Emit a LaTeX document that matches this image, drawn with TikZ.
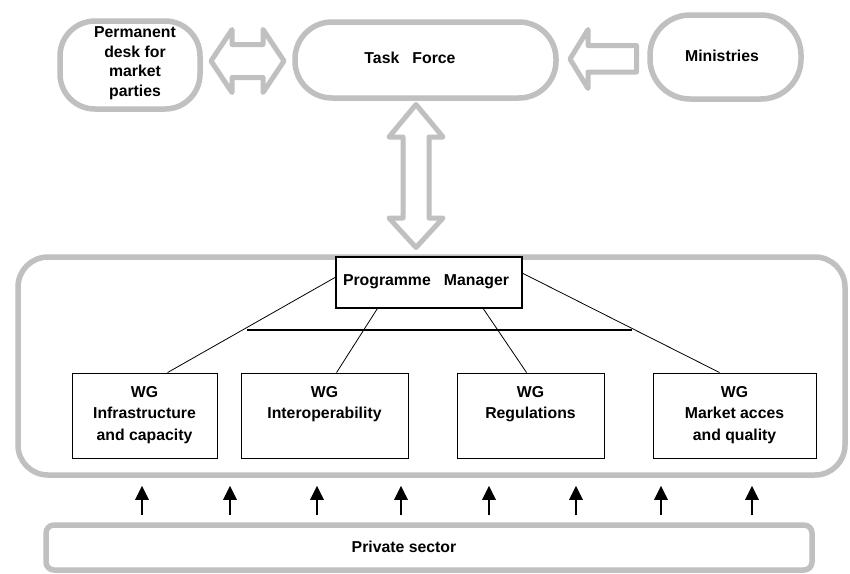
\documentclass[tikz,border=0pt]{standalone}
\usepackage{fontspec}
\setmainfont{Liberation Sans}
\usetikzlibrary{arrows.meta,calc}
\definecolor{silv}{HTML}{C0C0C0}
\begin{document}
\begin{tikzpicture}[x=1pt,y=-1pt,
  grayline/.style={draw=silv,line width=5.5pt},
  rbox/.style={grayline,fill=white,rectangle,inner sep=0pt},
  wgbox/.style={draw=black,line width=0.9pt,fill=white,rectangle,minimum width=#1,minimum height=85pt,inner sep=0pt},
  lbl/.style={font=\bfseries\fontsize{15.8}{21.7}\selectfont,align=center,inner sep=0pt},
  deskl/.style={font=\bfseries\fontsize{15.8}{19.5}\selectfont,align=center,inner sep=0pt},
  barrow/.style={draw=silv,line width=5pt,line join=round,fill=white},
  uparrow/.style={draw=black,line width=2.8pt,-{Triangle[width=13pt,length=14pt]}},
  conn/.style={draw=black,line width=0.8pt}
]
\useasboundingbox (0,0) rectangle (850,573);
\clip (0,0) rectangle (850,573);
\fill[white] (0,0) rectangle (850,573);

% top row
\node[rbox,rounded corners=35pt,minimum width=140pt,minimum height=88pt] (desk) at (130,65) {};
\node[deskl] (deskt) at (135,63) {Permanent\\desk for\\market\\parties};
\node[rbox,rounded corners=37pt,minimum width=261pt,minimum height=76pt] (tf) at (425.5,60) {};
\node[lbl] (tft) at (410,58) {Task~~~Force};
\node[rbox,rounded corners=40pt,minimum width=151pt,minimum height=84pt] (min) at (725.5,57) {};
\node[lbl] (mint) at (722,56) {Ministries};

% block arrows
\draw[barrow] (211,61) -- (232,29.5) -- (232,44.5) -- (263,44.5) -- (263,29.5) -- (284,61)
  -- (263,92.5) -- (263,77.5) -- (232,77.5) -- (232,92.5) -- cycle;
\draw[barrow] (570,59) -- (588,29.5) -- (588,45.5) -- (636.5,45.5) -- (636.5,72) -- (588,72)
  -- (588,88.5) -- cycle;
\draw[barrow] (416,104.5) -- (443,137) -- (429,137) -- (429,218) -- (443,218) -- (416,247.5)
  -- (389,218) -- (403,218) -- (403,137) -- (389,137) -- cycle;

% big box
\node[rbox,rounded corners=30pt,minimum width=827pt,minimum height=218pt] (big) at (431.5,366) {};

% programme manager
\node[draw=black,line width=1.4pt,fill=white,rectangle,inner sep=0pt,minimum width=186pt,minimum height=51pt] (pm) at (429,282.5) {};
\node[lbl] (pmt) at (426,282) {Programme~~~Manager};

% horizontal bar
\coordinate (hl1) at (247,330);
\coordinate (hl2) at (632,330);
\draw[line width=1.5pt] (hl1) -- (hl2);

% WG boxes
\node[wgbox=145pt] (wg1) at (144.5,415.5) {};
\node[wgbox=167pt] (wg2) at (324.5,415.5) {};
\node[wgbox=147pt] (wg3) at (530.5,415.5) {};
\node[wgbox=163pt] (wg4) at (734.5,415.5) {};
\node[lbl,anchor=north] (wg1t) at ([yshift=-13.3pt]wg1.north) {WG\\Infrastructure\\and capacity};
\node[lbl,anchor=north] (wg2t) at ([yshift=-13.3pt]wg2.north) {WG\\Interoperability};
\node[lbl,anchor=north] (wg3t) at ([yshift=-13.3pt]wg3.north) {WG\\Regulations};
\node[lbl,anchor=north] (wg4t) at ([yshift=-13.3pt]wg4.north) {WG\\Market acces\\and quality};

% connectors
\draw[conn] ([yshift=-21pt]pm.north west) -- ([xshift=96pt]wg1.north west);
\draw[conn] ([xshift=42pt]pm.south west) -- ([xshift=96pt]wg2.north west);
\draw[conn] ([xshift=148pt]pm.south west) -- ([xshift=70pt]wg3.north west);
\draw[conn] ([yshift=-17pt]pm.north east) -- ([xshift=67pt]wg4.north west);

% private sector
\node[rbox,rounded corners=8pt,minimum width=766pt,minimum height=45pt] (priv) at (429,547.5) {};
\node[lbl] (privt) at (404,547) {Private sector};

\foreach \x in {142,230,317,401,489,576,661,752} {
  \coordinate (s) at (priv.north -| \x,0);
  \coordinate (e) at (big.south -| \x,0);
  \draw[uparrow] ([yshift=7pt]s) -- ([yshift=-8pt]e);
}
\end{tikzpicture}
\end{document}
